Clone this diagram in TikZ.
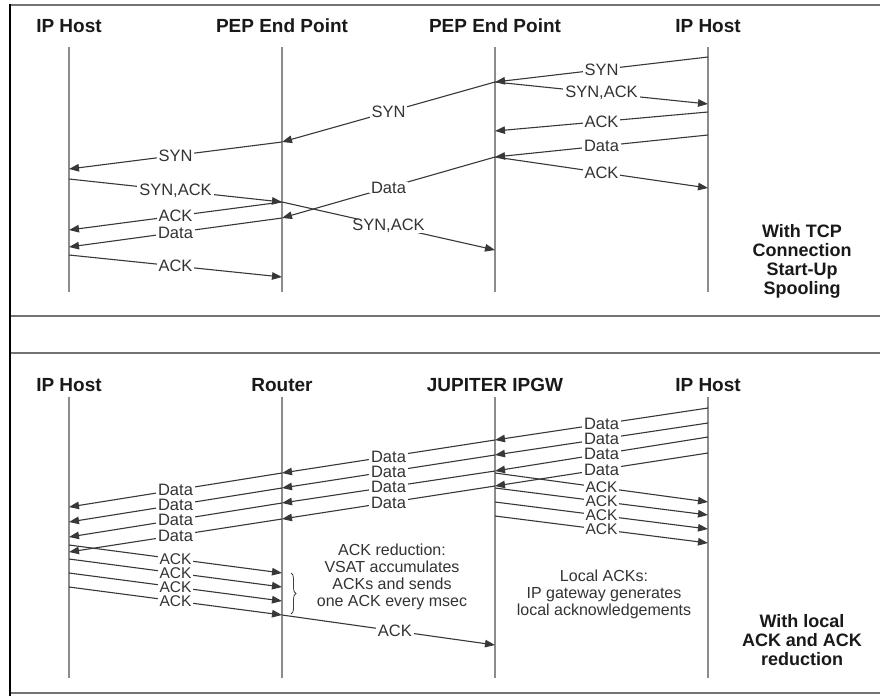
\documentclass[tikz,border=0pt]{standalone}
\usepackage{fontspec}
\setmainfont{Liberation Sans}
\usetikzlibrary{arrows.meta,decorations.pathreplacing}
\begin{document}
\begin{tikzpicture}[x=1pt,y=-1pt,
  frameline/.style={draw=black!55,line width=1.6pt},
  lifeline/.style={draw=black!45,line width=1.6pt},
  msg/.style={draw=black!78,line width=1.1pt,-{Triangle[length=10pt,width=7.5pt]}},
  lbl/.style={fill=white,inner xsep=2pt,inner ysep=0pt,text=black!80,font=\fontsize{16.5}{17}\selectfont},
  small/.style={font=\fontsize{15.5}{16}\selectfont},
  hdr/.style={font=\fontsize{19}{20}\selectfont\bfseries,text=black!90},
  side/.style={font=\fontsize{18}{19}\selectfont\bfseries,align=center,text=black!90},
  note/.style={font=\fontsize{16}{17}\selectfont,align=center,text=black!80}]
\useasboundingbox (0,0) rectangle (880,696);
\fill[white] (0,0) rectangle (880,696);
% frame
\draw[frameline] (10,5) -- (880,5);
\draw[frameline] (10,316) -- (880,316);
\draw[frameline] (10,353) -- (880,353);
\draw[frameline] (10,693) -- (880,693);
\draw[black,line width=2.4pt] (10,4) -- (10,696);

% ---------- top panel ----------
\node[hdr] (h1) at (69,26) {IP Host};
\node[hdr] (h2) at (282,26) {PEP End Point};
\node[hdr] (h3) at (495,26) {PEP End Point};
\node[hdr] (h4) at (708,26) {IP Host};
\coordinate (t1) at (69,47);  \coordinate (b1) at (69,292);
\coordinate (t2) at (282,47); \coordinate (b2) at (282,292);
\coordinate (t3) at (495,47); \coordinate (b3) at (495,292);
\coordinate (t4) at (708,47); \coordinate (b4) at (708,292);
\draw[lifeline] (t1) -- (b1);
\draw[lifeline] (t2) -- (b2);
\draw[lifeline] (t3) -- (b3);
\draw[lifeline] (t4) -- (b4);

\coordinate (r57) at (708,57);
\coordinate (q82) at (495,82);
\coordinate (p142) at (282,142);
\coordinate (l169) at (69,169);
\coordinate (r104) at (708,104);
\coordinate (r112) at (708,112);
\coordinate (q131) at (495,131);
\coordinate (r135) at (708,135);
\coordinate (q157) at (495,157);
\coordinate (r188) at (708,188);
\coordinate (p218) at (282,218);
\coordinate (l179) at (69,179);
\coordinate (p202) at (282,202);
\coordinate (q250) at (495,250);
\coordinate (l230) at (69,230);
\coordinate (l247) at (69,247);
\coordinate (l255) at (69,255);
\coordinate (p277) at (282,277);

\draw[msg] (r57) -- node[lbl] {SYN} (q82);
\draw[msg] (q82) -- node[lbl] {SYN} (p142);
\draw[msg] (p142) -- node[lbl] {SYN} (l169);
\draw[msg] (q82) -- node[lbl] {SYN,ACK} (r104);
\draw[msg] (r112) -- node[lbl] {ACK} (q131);
\draw[msg] (r135) -- node[lbl] {Data} (q157);
\draw[msg] (q157) -- node[lbl] {ACK} (r188);
\draw[msg] (l179) -- node[lbl] {SYN,ACK} (p202);
\draw[msg] (p202) -- node[lbl] {SYN,ACK} (q250);
\draw[msg] (q157) -- node[lbl] {Data} (p218);
\draw[msg] (p202) -- node[lbl] {ACK} (l230);
\draw[msg] (p218) -- node[lbl] {Data} (l247);
\draw[msg] (l255) -- node[lbl] {ACK} (p277);

\node[side] (s1) at (802,261) {With TCP\\Connection\\Start-Up\\Spooling};

% ---------- bottom panel ----------
\node[hdr] (g1) at (69,385) {IP Host};
\node[hdr] (g2) at (282,385) {Router};
\node[hdr] (g3) at (495,385) {JUPITER IPGW};
\node[hdr] (g4) at (708,385) {IP Host};
\coordinate (u1) at (69,397);  \coordinate (v1) at (69,678);
\coordinate (u2) at (282,397); \coordinate (v2) at (282,678);
\coordinate (u3) at (495,397); \coordinate (v3) at (495,678);
\coordinate (u4) at (708,397); \coordinate (v4) at (708,678);
\draw[lifeline] (u1) -- (v1);
\draw[lifeline] (u2) -- (v2);
\draw[lifeline] (u3) -- (v3);
\draw[lifeline] (u4) -- (v4);

% Data: right host -> IPGW
\foreach \i/\a/\b in {1/408/440,2/423/455,3/437/471,4/453/486}{
  \coordinate (dr\i) at (708,\a);
  \coordinate (dg\i) at (495,\b);
}
% Data: IPGW -> Router
\foreach \i/\b in {1/473,2/488,3/503,4/519}{
  \coordinate (dq\i) at (282,\b);
}
% Data: Router -> left host
\foreach \i/\b in {1/507,2/522,3/537,4/552}{
  \coordinate (dl\i) at (69,\b);
}
\foreach \i in {1,2,3,4}{
  \draw[msg] (dr\i) -- node[lbl] {Data} (dg\i);
  \draw[msg] (dg\i) -- node[lbl] {Data} (dq\i);
  \draw[msg] (dq\i) -- node[lbl] {Data} (dl\i);
}
% ACK: IPGW -> right host
\foreach \i/\a/\b in {1/473/502,2/488/515,3/502/529,4/516/543}{
  \coordinate (ag\i) at (495,\a);
  \coordinate (ar\i) at (708,\b);
}
% ACK: left host -> Router
\foreach \i/\a/\b in {1/545/573,2/559/587,3/573/601,4/587/615}{
  \coordinate (al\i) at (69,\a);
  \coordinate (aq\i) at (282,\b);
}
\foreach \i in {1,2,3,4}{
  \draw[msg] (ag\i) -- node[lbl,small] {ACK} (ar\i);
  \draw[msg] (al\i) -- node[lbl,small] {ACK} (aq\i);
}
\coordinate (rackend) at (495,645);
\draw[msg] (aq4) -- node[lbl,pos=0.53] {ACK} (rackend);

\coordinate (brtop) at (291,573);
\coordinate (brbot) at (291,614);
\draw[black!75,line width=0.8pt,decorate,decoration={brace,amplitude=5pt}] (brtop) -- (brbot);

\node[note] (n1) at (392,577) {ACK reduction:\\VSAT accumulates\\ACKs and sends\\one ACK every msec};
\node[note] (n2) at (604,594) {Local ACKs:\\IP gateway generates\\local acknowledgements};
\node[side] (s2) at (802,640) {With local\\ACK and ACK\\reduction};
\end{tikzpicture}
\end{document}
